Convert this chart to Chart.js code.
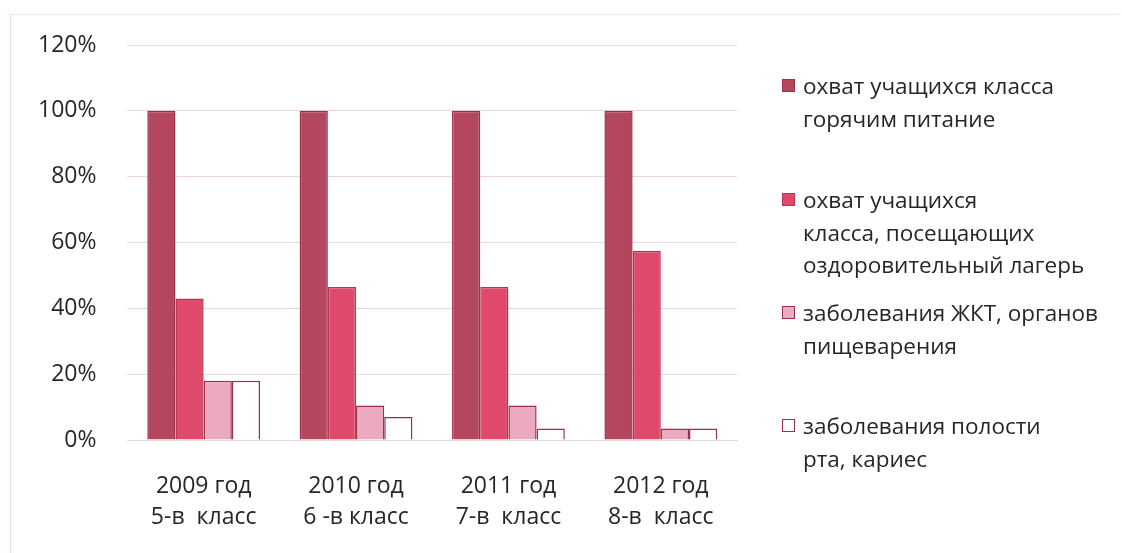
<!DOCTYPE html>
<html>
<head>
<meta charset="utf-8">
<script src="https://cdn.jsdelivr.net/npm/chart.js@4.4.1/dist/chart.umd.min.js"></script>
<style>
    html, body { margin: 0; padding: 0; background: #fff; }
    .wrap { position: relative; width: 1122px; height: 553px; }
    .frame { position: absolute; left: 10px; top: 14px; width: 1108px; height: 560px;
             border-left: 1px solid #f0d8de; border-top: 1px solid #f3e2e6; }
    #chart1 { position: absolute; left: 0; top: 0; }
    .legend { position: absolute; left: 782px; top: 0; font-family: 'Open Sans', sans-serif;
              font-size: 22.5px; color: #262626; }
    .legend .item { position: absolute; left: 0; width: 340px; line-height: 32.5px; padding-left: 21px;
                    white-space: nowrap; }
    .legend .box { position: absolute; left: 0; top: 9px; width: 13px; height: 13px; box-sizing: border-box; }
</style>
</head>
<body>
<div class="wrap">
    <div class="frame"></div>
    <canvas id="chart1" width="1122" height="553"></canvas>
    <div class="legend" id="legend"></div>
</div>
<script>
var years = ['2009 год', '2010 год', '2011 год', '2012 год'];
var classes = ['5-в  класс', '6 -в класс', '7-в  класс', '8-в  класс'];

var seriesNames = [
    'охват учащихся класса горячим питание',
    'охват учащихся класса, посещающих оздоровительный лагерь',
    'заболевания ЖКТ, органов пищеварения',
    'заболевания полости рта, кариес'
];
// legend lines as they wrap
var legendLines = [
    ['охват учащихся класса', 'горячим питание'],
    ['охват учащихся', 'класса, посещающих', 'оздоровительный лагерь'],
    ['заболевания ЖКТ, органов', 'пищеварения'],
    ['заболевания полости', 'рта, кариес']
];

var hotMeals = [100, 100, 100, 100];
var summerCamp = [43, 46.5, 46.5, 57.5];
var digestive = [18, 10.5, 10.5, 3.5];
var dental = [18, 7, 3.5, 3.5];

var yTicks = [0, 20, 40, 60, 80, 100, 120];

var fills = ['#b4465e', '#df4a6c', '#ebaac0', '#ffffff'];
var borders = ['#9c3048', '#b8344f', '#9e2f48', '#9e2f48'];

var labels = years.map(function (y, i) { return [y, classes[i]]; });
var values = [hotMeals, summerCamp, digestive, dental];

var ctx1 = document.getElementById('chart1').getContext('2d');

var myBarChart = new Chart(ctx1, {
    type: 'bar',
    data: {
        labels: labels,
        datasets: values.map(function (v, i) {
            return {
                label: seriesNames[i],
                data: v,
                backgroundColor: fills[i],
                borderColor: borders[i],
                borderWidth: 1.5,
                categoryPercentage: 0.74,
                barPercentage: 1.0
            };
        })
    },
    options: {
        responsive: false,
        animation: false,
        layout: { padding: { left: 7, right: 385, top: 45, bottom: 0 } },
        plugins: {
            legend: { display: false },
            tooltip: { enabled: false }
        },
        scales: {
            x: {
                grid: { display: false },
                border: { color: '#e4d6da' },
                afterFit: function (scale) { scale.height = 113; },
                ticks: {
                    color: '#262626',
                    padding: 23,
                    maxRotation: 0,
                    font: { family: 'Open Sans', size: 23, lineHeight: 1.35 }
                }
            },
            y: {
                min: 0,
                max: 120,
                afterBuildTicks: function (axis) {
                    axis.ticks = yTicks.map(function (v) { return { value: v }; });
                },
                grid: { color: '#ead6dc', lineWidth: 1, drawTicks: false },
                border: { display: false },
                ticks: {
                    color: '#262626',
                    padding: 31,
                    font: { family: 'Open Sans', size: 23 },
                    callback: function (v) { return v + '%'; }
                }
            }
        }
    }
});

// legend built from the chart's datasets
var legendTops = [70, 184, 297, 410];
var legendEl = document.getElementById('legend');
myBarChart.data.datasets.forEach(function (ds, i) {
    var item = document.createElement('div');
    item.className = 'item';
    item.style.top = legendTops[i] + 'px';
    var box = document.createElement('span');
    box.className = 'box';
    box.style.background = ds.backgroundColor;
    box.style.border = '1px solid ' + ds.borderColor;
    item.appendChild(box);
    item.innerHTML += legendLines[i].join('<br>');
    legendEl.appendChild(item);
});
</script>
</body>
</html>
